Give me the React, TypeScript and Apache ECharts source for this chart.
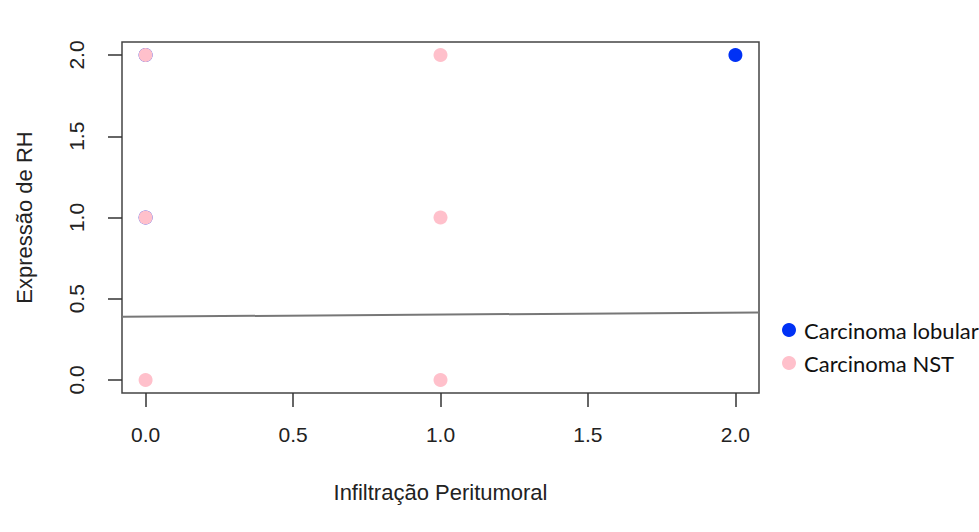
import React, { useEffect, useRef } from "react";
import * as echarts from "echarts";

const lobularX = [0, 0, 2];
const lobularY = [2, 1, 2];
const nstX = [0, 0, 0, 1, 1, 1];
const nstY = [2, 1, 0, 2, 1, 0];
const tickValues = [0, 0.5, 1, 1.5, 2];
const fitIntercept = 0.39;
const fitSlope = 0.0125;
const axisMin = -0.08;
const axisMax = 2.08;

const FONT = "'Liberation Sans', Arial, sans-serif";

export default function App() {
  const ref = useRef<HTMLDivElement>(null);
  useEffect(() => {
    const chart = echarts.init(ref.current!, undefined, { renderer: "svg" });
    const fitLine = [axisMin, axisMax].map((x) => [x, fitIntercept + fitSlope * x]);
    const fmt = (v: number) => (tickValues.includes(v) ? v.toFixed(1) : "");
    chart.setOption({
      animation: false,
      backgroundColor: "#fff",
      grid: {
        left: 122,
        top: 42,
        right: 220,
        bottom: 139,
        show: true,
        borderColor: "#444",
        borderWidth: 1.5,
      },
      xAxis: {
        type: "value",
        min: axisMin,
        max: axisMax,
        splitLine: { show: false },
        axisLine: { show: false, onZero: false },
        axisTick: { show: true, length: 14, lineStyle: { color: "#333", width: 1.5 }, customValues: tickValues },
        axisLabel: {
          show: true,
          margin: 31,
          fontSize: 21,
          fontFamily: FONT,
          color: "#222",
          formatter: fmt,
          customValues: tickValues,
        },
        name: "Infiltração Peritumoral",
        nameLocation: "middle",
        nameGap: 88,
        nameTextStyle: { fontSize: 22, fontFamily: FONT, color: "#222" },
      },
      yAxis: {
        type: "value",
        min: axisMin,
        max: axisMax,
        splitLine: { show: false },
        axisLine: { show: false, onZero: false },
        axisTick: { show: true, length: 14, lineStyle: { color: "#333", width: 1.5 }, customValues: tickValues },
        axisLabel: {
          show: true,
          rotate: 90,
          margin: 35,
          fontSize: 21,
          fontFamily: FONT,
          color: "#222",
          formatter: fmt,
          customValues: tickValues,
        },
        name: "Expressão de RH",
        nameLocation: "middle",
        nameGap: 87,
        nameTextStyle: { fontSize: 22, fontFamily: FONT, color: "#222" },
      },
      legend: {
        data: ["Carcinoma lobular", "Carcinoma NST"],
        orient: "vertical",
        left: 777,
        top: 314,
        icon: "circle",
        itemWidth: 14,
        itemHeight: 14,
        itemGap: 11,
        textStyle: {
          fontSize: 22,
          lineHeight: 14,
          fontFamily: "Lato, 'Noto Sans', sans-serif",
          color: "#111",
          padding: [0, 0, 0, 3],
        },
      },
      series: [
        {
          name: "Carcinoma lobular",
          type: "scatter",
          symbol: "circle",
          symbolSize: 14,
          itemStyle: { color: "#0031f5", opacity: 1 },
          data: lobularX.map((x, i) => [x, lobularY[i]]),
          z: 2,
        },
        {
          name: "Carcinoma NST",
          type: "scatter",
          symbol: "circle",
          symbolSize: 14,
          itemStyle: { color: "#ffc0cb", opacity: 1 },
          data: nstX.map((x, i) => [x, nstY[i]]),
          z: 3,
        },
        {
          name: "fit",
          type: "line",
          data: fitLine,
          showSymbol: false,
          symbol: "none",
          lineStyle: { color: "#777", width: 2 },
          z: 4,
        },
      ],
    });
    return () => chart.dispose();
  }, []);
  return (
    <div
      ref={ref}
      style={{ position: "fixed", left: 0, top: 0, width: 979, height: 532, background: "#fff" }}
    />
  );
}
